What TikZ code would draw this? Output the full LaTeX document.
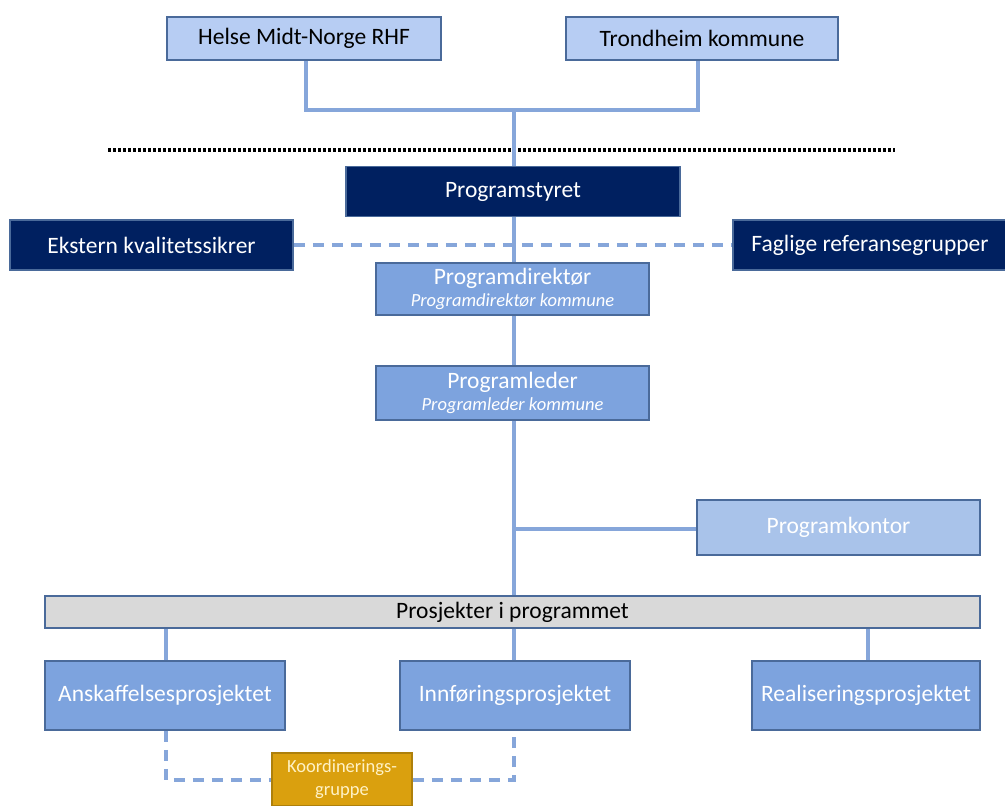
\documentclass[tikz,border=0pt]{standalone}
\usepackage{fontspec}
\setmainfont{Carlito}
\definecolor{lightbox}{HTML}{B7CDF3}
\definecolor{midbox}{HTML}{7DA3DE}
\definecolor{navy}{HTML}{002060}
\definecolor{kontor}{HTML}{A9C3EA}
\definecolor{barfill}{HTML}{D9D9D9}
\definecolor{edge}{HTML}{4A6A9A}
\definecolor{conn}{HTML}{86A6DA}
\definecolor{koord}{HTML}{DAA00E}
\definecolor{koordtext}{HTML}{FFF2C6}
\begin{document}
\begin{tikzpicture}[x=1pt,y=-1pt,
  box/.style={draw=edge,line width=1.6pt,minimum width=#1,inner sep=0pt,align=center},
  topbox/.style={box=274pt,fill=lightbox,minimum height=43pt,text=black,font=\fontsize{23.5}{26}\selectfont},
  navybox/.style={box=#1,fill=navy,minimum height=50pt,text=white,font=\fontsize{23.5}{26}\selectfont},
  midboxs/.style={box=#1,fill=midbox,text=white,font=\fontsize{23.5}{26}\selectfont},
  sub/.style={},
  ln/.style={draw=conn,line width=3.5pt},
  dln/.style={draw=conn,line width=3.5pt,dash pattern=on 11pt off 8pt}]
\useasboundingbox (0,0) rectangle (1005,806);
\node[topbox] (helse) at (304,38.5) {Helse Midt-Norge RHF};
\node[topbox,minimum width=272pt] (trond) at (702,38.5) {Trondheim kommune};
\coordinate (join) at (514,110);
\draw[ln] (helse.south -| 306,0) |- (join) -| (trond.south -| 698,0);
\draw[line width=3.5pt,dash pattern=on 3pt off 2pt] (108,150) -- (895,150);
\node[navybox=334pt] (styret) at (513,191.5) {Programstyret};
\node[navybox=283pt] (ekstern) at (151.5,245) {Ekstern kvalitetssikrer};
\node[navybox=274pt] (faglige) at (870,245) {Faglige referansegrupper};
\node[midboxs=273pt,minimum height=52pt] (dir) at (512.5,289) {Programdirektør\\[-4pt]{\itshape\fontsize{18.5}{22}\selectfont Programdirektør kommune}};
\node[midboxs=273pt,minimum height=54pt] (leder) at (512.5,393) {Programleder\\[-4pt]{\itshape\fontsize{18.5}{22}\selectfont Programleder kommune}};
\node[midboxs=283pt,minimum height=55pt,fill=kontor] (kontor) at (838.5,527.5) {Programkontor};
\node[box=935pt,minimum height=32pt,fill=barfill,text=black,font=\fontsize{23.5}{26}\selectfont] (bar) at (512.5,612) {Prosjekter i programmet};
\node[midboxs=240pt,minimum height=69pt] (ansk) at (165,695.5) {Anskaffelsesprosjektet};
\node[midboxs=230pt,minimum height=69pt] (innf) at (515,695.5) {Innføringsprosjektet};
\node[midboxs=228pt,minimum height=69pt] (real) at (866,695.5) {Realiseringsprosjektet};
\node[box=140pt,minimum height=53pt,fill=koord,draw=koord!80!black,text=koordtext,font=\fontsize{18.5}{23}\selectfont] (koord) at (342,779.5) {Koordinerings-\\gruppe};
% connectors
\draw[dln] (ekstern.east) -- (faglige.west);
\draw[ln] (join) -- (styret.north -| join);
\draw[ln] (styret.south -| join) -- (dir.north -| join);
\draw[ln] (dir.south -| join) -- (leder.north -| join);
\draw[ln] (leder.south -| join) -- (bar.north -| join);
\coordinate (kj) at (514,529);
\draw[ln] (kj) -- (kontor.west |- kj);
\draw[ln] (bar.south -| 166,0) -- (ansk.north -| 166,0);
\draw[ln] (bar.south -| 514,0) -- (innf.north -| 514,0);
\draw[ln] (bar.south -| 868,0) -- (real.north -| 868,0);
\draw[dln] (ansk.south -| 166,0) |- (koord.west |- 0,780);
\draw[dln] (koord.east |- 0,780) -| (innf.south -| 514,0);
\end{tikzpicture}
\end{document}
